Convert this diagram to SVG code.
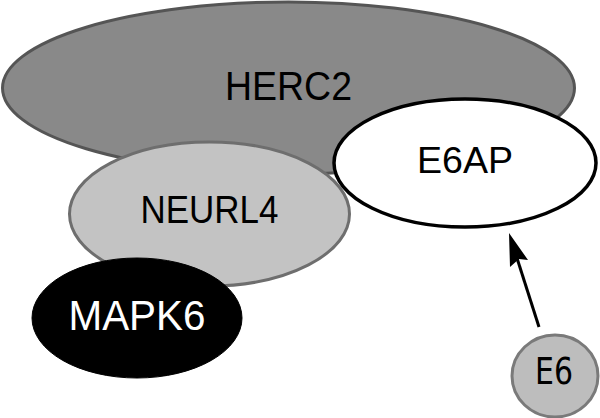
<svg xmlns="http://www.w3.org/2000/svg" width="600" height="418" viewBox="0 0 600 418">
<defs>
<style>
text{font-family:"Liberation Sans",Arial,sans-serif;text-anchor:middle}
.herc{fill:#898989;stroke:#555;stroke-width:3}
.neu{fill:#c3c3c3;stroke:#6e6e6e;stroke-width:3}
.mapk{fill:#000;stroke:#000;stroke-width:1}
.e6ap{fill:#fff;stroke:#000;stroke-width:3.5}
.e6{fill:#bdbdbd;stroke:#7a7a7a;stroke-width:3}
.conn{stroke:#000;stroke-width:3;fill:none}
</style>
</defs>
<g id="HERC2">
<ellipse class="herc" cx="288.5" cy="88" rx="286" ry="86"/>
<text x="288.5" y="100" font-size="40" textLength="127" lengthAdjust="spacingAndGlyphs">HERC2</text>
</g>
<g id="NEURL4">
<ellipse class="neu" cx="209.5" cy="214" rx="140" ry="72"/>
<text x="209.5" y="223" font-size="39" textLength="138" lengthAdjust="spacingAndGlyphs">NEURL4</text>
</g>
<g id="MAPK6">
<ellipse class="mapk" cx="137" cy="318" rx="105" ry="60"/>
<text x="137" y="330" font-size="42" fill="#fff" textLength="137" lengthAdjust="spacingAndGlyphs">MAPK6</text>
</g>
<g id="E6AP">
<ellipse class="e6ap" cx="465" cy="163" rx="131" ry="64"/>
<text x="465" y="173" font-size="37" textLength="96" lengthAdjust="spacingAndGlyphs">E6AP</text>
</g>
<g id="E6">
<ellipse class="e6" cx="555" cy="376" rx="43" ry="41"/>
<text x="554" y="384" font-size="37" style="font-family:'DejaVu Sans',sans-serif" textLength="38" lengthAdjust="spacingAndGlyphs">E6</text>
</g>
<g id="connectors">
<line class="conn" x1="539" y1="327" x2="516" y2="255"/>
<path d="M509,233 L528,260 L519,259 L510,267 z" fill="#000"/>
</g>
</svg>
